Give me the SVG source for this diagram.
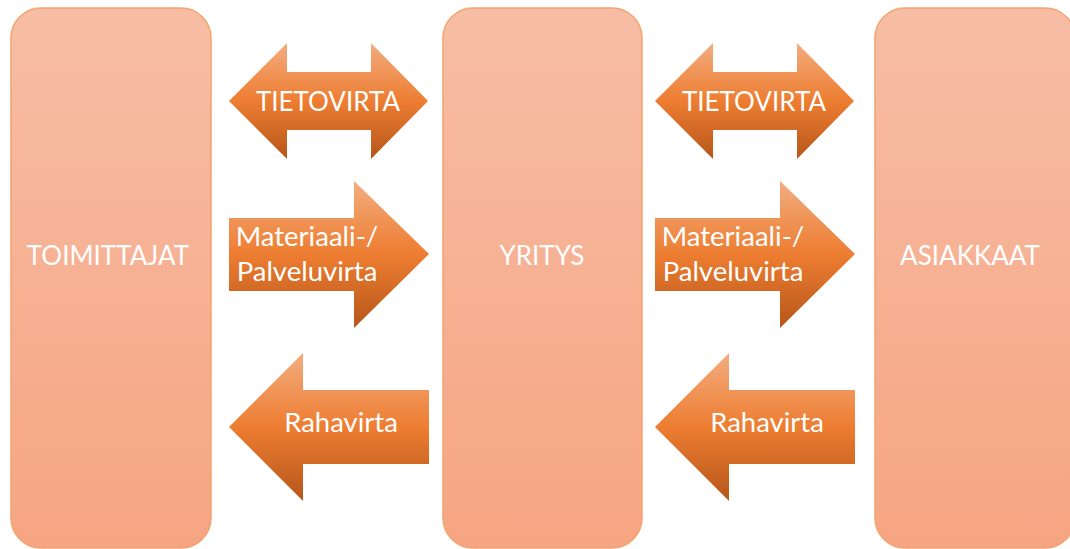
<svg xmlns="http://www.w3.org/2000/svg" width="1070" height="549" viewBox="0 0 1070 549">
<defs>
<linearGradient id="gBox" x1="0" y1="0" x2="0" y2="1">
<stop offset="0" stop-color="#F7BDA5"/>
<stop offset="1" stop-color="#F6A582"/>
</linearGradient>
<linearGradient id="gArr" x1="0" y1="0" x2="0" y2="1">
<stop offset="0" stop-color="#F3AD80"/>
<stop offset="0.5" stop-color="#ED7D31"/>
<stop offset="1" stop-color="#B6561A"/>
</linearGradient>
<style>
.box{fill:url(#gBox);stroke:#F4A36F;stroke-width:1.5}
.arr{fill:url(#gArr)}
.t{font-family:Lato,"Open Sans","Liberation Sans",sans-serif;fill:#FFFFFF;font-size:26px;text-anchor:middle}
.l{font-size:27.5px}
</style>
</defs>
<g id="toimittajat">
<rect class="box" x="11" y="8" width="200" height="540" rx="30" ry="30"/>
<text class="t" x="108" y="265">TOIMITTAJAT</text>
</g>
<g id="yritys">
<rect class="box" x="443" y="8" width="199" height="540" rx="30" ry="30"/>
<text class="t" x="542" y="265">YRITYS</text>
</g>
<g id="asiakkaat">
<rect class="box" x="875" y="8" width="200" height="540" rx="30" ry="30"/>
<text class="t" x="970" y="265">ASIAKKAAT</text>
</g>
<g id="connectors">
<g id="tieto1">
<polygon class="arr" points="229,101 287,43 287,72 371,72 371,43 428,101 371,159 371,130 287,130 287,159"/>
<text class="t" x="328" y="111">TIETOVIRTA</text>
</g>
<g id="materiaali1">
<polygon class="arr" points="229,218 354,218 354,181 429,254 354,328 354,291 229,291"/>
<text class="t l" x="307" y="246">Materiaali-/</text>
<text class="t l" x="307" y="281">Palveluvirta</text>
</g>
<g id="raha1">
<polygon class="arr" points="229,427 303,353 303,390 429,390 429,464 303,464 303,501"/>
<text class="t l" x="341" y="432">Rahavirta</text>
</g>
<g id="tieto2">
<polygon class="arr" points="655,101 713,43 713,72 797,72 797,43 854,101 797,159 797,130 713,130 713,159"/>
<text class="t" x="754" y="111">TIETOVIRTA</text>
</g>
<g id="materiaali2">
<polygon class="arr" points="655,218 780,218 780,181 855,254 780,328 780,291 655,291"/>
<text class="t l" x="733" y="246">Materiaali-/</text>
<text class="t l" x="733" y="281">Palveluvirta</text>
</g>
<g id="raha2">
<polygon class="arr" points="655,427 729,353 729,390 855,390 855,464 729,464 729,501"/>
<text class="t l" x="767" y="432">Rahavirta</text>
</g>
</g>
</svg>
